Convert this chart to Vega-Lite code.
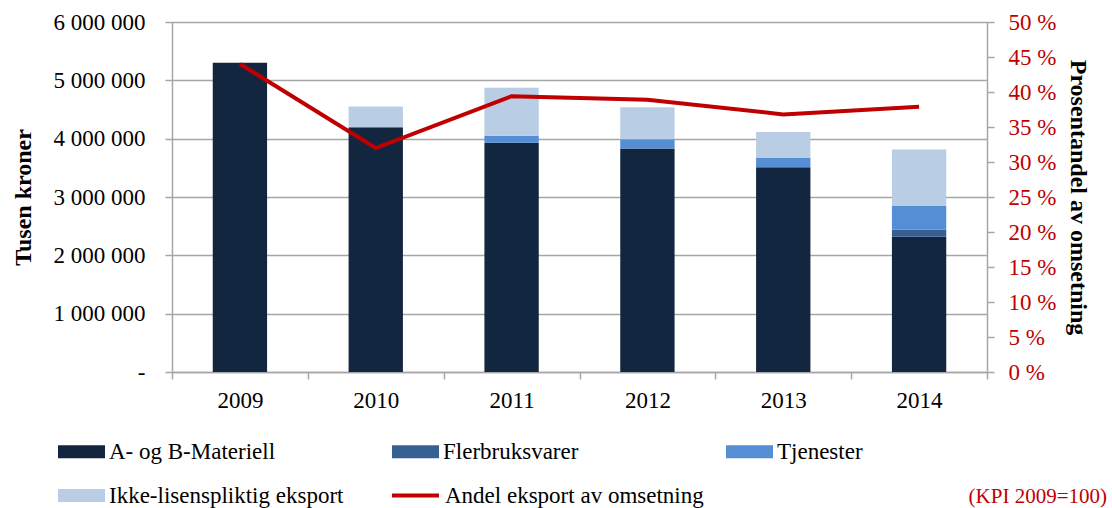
{
  "$schema": "https://vega.github.io/schema/vega-lite/v6.json",
  "width": 815,
  "height": 350,
  "autosize": {"type": "none"},
  "padding": {"left": 172, "top": 22, "right": 125, "bottom": 136},
  "background": "white",
  "config": {
    "font": "Liberation Serif, Times New Roman, serif",
    "view": {"stroke": null},
    "legend": {"labelFont": "Liberation Serif, Times New Roman, serif"},
    "axis": {"labelFont": "Liberation Serif, Times New Roman, serif", "titleFont": "Liberation Serif, Times New Roman, serif"},
    "locale": {"number": {"decimal": ",", "thousands": " ", "grouping": [3], "currency": ["", " kr"]}}
  },
  "title": {
    "text": "(KPI 2009=100)",
    "orient": "bottom",
    "anchor": "end",
    "frame": "group",
    "color": "#c00000",
    "fontSize": 21,
    "fontWeight": "normal",
    "font": "Liberation Serif, Times New Roman, serif",
    "dx": 120,
    "offset": -22
  },
  "datasets": {
    "eksport": [
      {"aar": "2009", "kategori": "A- og B-Materiell", "nr": 1, "verdi": 5300000},
      {"aar": "2009", "kategori": "Flerbruksvarer", "nr": 2, "verdi": 0},
      {"aar": "2009", "kategori": "Tjenester", "nr": 3, "verdi": 0},
      {"aar": "2009", "kategori": "Ikke-lisenspliktig eksport", "nr": 4, "verdi": 0},
      {"aar": "2010", "kategori": "A- og B-Materiell", "nr": 1, "verdi": 4195000},
      {"aar": "2010", "kategori": "Flerbruksvarer", "nr": 2, "verdi": 0},
      {"aar": "2010", "kategori": "Tjenester", "nr": 3, "verdi": 0},
      {"aar": "2010", "kategori": "Ikke-lisenspliktig eksport", "nr": 4, "verdi": 355000},
      {"aar": "2011", "kategori": "A- og B-Materiell", "nr": 1, "verdi": 3930000},
      {"aar": "2011", "kategori": "Flerbruksvarer", "nr": 2, "verdi": 0},
      {"aar": "2011", "kategori": "Tjenester", "nr": 3, "verdi": 120000},
      {"aar": "2011", "kategori": "Ikke-lisenspliktig eksport", "nr": 4, "verdi": 825000},
      {"aar": "2012", "kategori": "A- og B-Materiell", "nr": 1, "verdi": 3830000},
      {"aar": "2012", "kategori": "Flerbruksvarer", "nr": 2, "verdi": 0},
      {"aar": "2012", "kategori": "Tjenester", "nr": 3, "verdi": 160000},
      {"aar": "2012", "kategori": "Ikke-lisenspliktig eksport", "nr": 4, "verdi": 550000},
      {"aar": "2013", "kategori": "A- og B-Materiell", "nr": 1, "verdi": 3510000},
      {"aar": "2013", "kategori": "Flerbruksvarer", "nr": 2, "verdi": 0},
      {"aar": "2013", "kategori": "Tjenester", "nr": 3, "verdi": 160000},
      {"aar": "2013", "kategori": "Ikke-lisenspliktig eksport", "nr": 4, "verdi": 445000},
      {"aar": "2014", "kategori": "A- og B-Materiell", "nr": 1, "verdi": 2320000},
      {"aar": "2014", "kategori": "Flerbruksvarer", "nr": 2, "verdi": 125000},
      {"aar": "2014", "kategori": "Tjenester", "nr": 3, "verdi": 400000},
      {"aar": "2014", "kategori": "Ikke-lisenspliktig eksport", "nr": 4, "verdi": 970000}
    ],
    "andel": [
      {"aar": "2009", "serie": "Andel eksport av omsetning", "prosent": 44.0},
      {"aar": "2010", "serie": "Andel eksport av omsetning", "prosent": 32.0},
      {"aar": "2011", "serie": "Andel eksport av omsetning", "prosent": 39.4},
      {"aar": "2012", "serie": "Andel eksport av omsetning", "prosent": 38.9},
      {"aar": "2013", "serie": "Andel eksport av omsetning", "prosent": 36.8},
      {"aar": "2014", "serie": "Andel eksport av omsetning", "prosent": 37.9}
    ]
  },
  "layer": [
    {
      "data": {"name": "eksport"},
      "mark": {"type": "bar", "width": {"band": 0.4}},
      "encoding": {
        "x": {
          "field": "aar",
          "type": "ordinal",
          "scale": {"paddingInner": 0, "paddingOuter": 0},
          "axis": {
            "title": null,
            "labelAngle": 0,
            "labelFontSize": 23,
            "labelColor": "black",
            "labelPadding": 10,
            "domainColor": "#a6a6a6",
            "domainWidth": 1.5,
            "tickColor": "#a6a6a6",
            "tickWidth": 1.5,
            "tickSize": 7,
            "tickBand": "extent",
            "grid": false
          }
        },
        "y": {
          "field": "verdi",
          "type": "quantitative",
          "stack": "zero",
          "scale": {"domain": [0, 6000000], "nice": false},
          "axis": {
            "title": "Tusen kroner",
            "titleFontSize": 24,
            "titleFontWeight": "bold",
            "titleColor": "black",
            "titlePadding": 18,
            "values": [0, 1000000, 2000000, 3000000, 4000000, 5000000, 6000000],
            "format": ",d",
            "labelExpr": "datum.value == 0 ? '-' : datum.label",
            "labelFontSize": 23,
            "labelColor": "black",
            "labelPadding": 20,
            "tickSize": 7,
            "tickColor": "#a6a6a6",
            "tickWidth": 1.5,
            "domainColor": "#a6a6a6",
            "domainWidth": 1.5,
            "grid": true,
            "gridColor": "#a6a6a6",
            "gridWidth": 1.5
          }
        },
        "color": {
          "field": "kategori",
          "type": "nominal",
          "scale": {
            "domain": ["A- og B-Materiell", "Flerbruksvarer", "Tjenester", "Ikke-lisenspliktig eksport"],
            "range": ["#13263f", "#366092", "#558ed5", "#b9cde5"]
          },
          "legend": {
            "orient": "none",
            "legendX": -114,
            "legendY": 406,
            "direction": "horizontal",
            "columns": 3,
            "title": null,
            "symbolType": "M-1,-0.2766H1V0.2766H-1Z",
            "symbolSize": 2209,
            "symbolStrokeWidth": 0,
            "symbolOpacity": 1,
            "labelFont": "Liberation Serif, Times New Roman, serif",
            "labelFontSize": 23,
            "labelColor": "black",
            "labelOffset": 4,
            "labelLimit": 400,
            "columnPadding": 48,
            "rowPadding": 8,
            "gridAlign": "all",
            "padding": 0
          }
        },
        "order": {"field": "nr", "type": "quantitative"}
      }
    },
    {
      "data": {"name": "andel"},
      "mark": {"type": "line", "strokeWidth": 4, "color": "#c00000"},
      "encoding": {
        "x": {"field": "aar", "type": "ordinal"},
        "y": {
          "field": "prosent",
          "type": "quantitative",
          "scale": {"domain": [0, 50], "nice": false},
          "axis": {
            "orient": "right",
            "title": "Prosentandel av omsetning",
            "titleFontSize": 24,
            "titleFontWeight": "bold",
            "titleColor": "black",
            "titlePadding": 10,
            "values": [0, 5, 10, 15, 20, 25, 30, 35, 40, 45, 50],
            "labelExpr": "datum.value + ' %'",
            "labelFontSize": 23,
            "labelColor": "#c00000",
            "labelPadding": 14,
            "tickSize": 7,
            "tickColor": "#a6a6a6",
            "tickWidth": 1.5,
            "domainColor": "#a6a6a6",
            "domainWidth": 1.5,
            "grid": false
          }
        },
        "stroke": {
          "field": "serie",
          "type": "nominal",
          "scale": {"domain": ["Andel eksport av omsetning"], "range": ["#c00000"]},
          "legend": {
            "orient": "none",
            "legendX": 218,
            "legendY": 448,
            "title": null,
            "symbolType": "stroke",
            "symbolSize": 2209,
            "symbolStrokeWidth": 4,
            "labelFont": "Liberation Serif, Times New Roman, serif",
            "labelFontSize": 23,
            "labelColor": "black",
            "labelOffset": 4,
            "labelLimit": 400,
            "padding": 0
          }
        }
      }
    }
  ],
  "resolve": {"scale": {"y": "independent"}}
}
